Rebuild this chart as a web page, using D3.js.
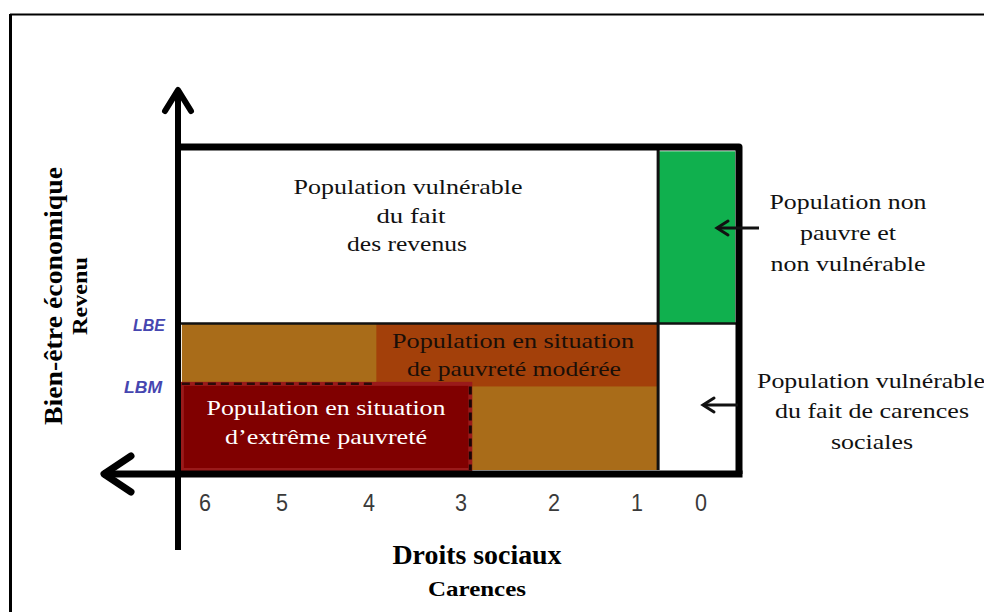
<!DOCTYPE html>
<html><head><meta charset="utf-8">
<script src="https://cdn.jsdelivr.net/npm/d3@7"></script>
<style>html,body{margin:0;padding:0;background:#fff;}svg{display:block;}</style>
</head><body>
<svg id="chart" width="984" height="612"></svg>
<script>
// ---- data ----
const carenceTicks = [6, 5, 4, 3, 2, 1, 0];
const tickLabels = ["6", "5", "4", "3", "2", "1", "0"];
const povertyLineNames = ["LBE", "LBM"];
const povertyLineValues = [1.7, 1.0];
const regionNames = ["vulnRevenus", "nonVulnerable", "vulnCarences", "pauvrete", "pauvreteModeree", "pauvreteExtreme"];
const regionX0 = [6.3, 0.67, 0.67, 6.3, 3.92, 6.3];
const regionX1 = [0.67, -0.45, -0.45, 0.67, 0.67, 2.9];
const regionY0 = [1.7, 1.7, 0, 0, 0.97, 0];
const regionY1 = [3.7, 3.7, 1.7, 1.7, 1.7, 1.0];
const insideLabels = [
  ["Population vulnérable", "du fait", "des revenus"],
  ["Population en situation", "de pauvreté modérée"],
  ["Population en situation", "d\u2019extrême pauvreté"]
];
const sideLabels = [
  ["Population non", "pauvre et", "non vulnérable"],
  ["Population vulnérable", "du fait de carences", "sociales"]
];
const yTitle = "Bien-être économique", ySubtitle = "Revenu";
const xTitle = "Droits sociaux", xSubtitle = "Carences";

// ---- styles ----
const fills = {vulnRevenus:"#ffffff", nonVulnerable:"#10b04e", vulnCarences:"#ffffff",
  pauvrete:"#a96c19", pauvreteModeree:"#a3400a", pauvreteExtreme:"#800000"};

const svg = d3.select("#chart");
const x = d3.scaleLinear()
  .domain([6.35, 6, 5, 4, 3, 2, 1, 0, -0.5])
  .range([178, 205, 282, 369, 461, 554, 637, 701, 739]);
const y = d3.scaleLinear().domain([0, 3.75]).range([470, 147]);

// outer frame
svg.append("line").attr("x1", 10).attr("x2", 984).attr("y1", 14.5).attr("y2", 14.5).attr("stroke", "#000").attr("stroke-width", 2);
svg.append("line").attr("x1", 10.5).attr("x2", 10.5).attr("y1", 14).attr("y2", 612).attr("stroke", "#000").attr("stroke-width", 3);

// regions
regionNames.forEach((n, i) => {
  svg.append("rect")
    .attr("x", x(regionX0[i])).attr("width", x(regionX1[i]) - x(regionX0[i]))
    .attr("y", y(regionY1[i])).attr("height", y(regionY0[i]) - y(regionY1[i]))
    .attr("fill", fills[n])
    .attr("stroke", n === "pauvreteExtreme" ? "#9a1a1a" : "none")
    .attr("stroke-width", n === "pauvreteExtreme" ? 4 : 0);
});

// LBE line (solid)
svg.append("line").attr("x1", x(6.35)).attr("x2", x(-0.5))
  .attr("y1", y(povertyLineValues[0])).attr("y2", y(povertyLineValues[0]))
  .attr("stroke", "#111").attr("stroke-width", 2.5);
// LBM dashed line
svg.append("line").attr("x1", x(6.3)).attr("x2", x(3.92))
  .attr("y1", y(povertyLineValues[1])).attr("y2", y(povertyLineValues[1]))
  .attr("stroke", "#2a0a0a").attr("stroke-width", 2.5).attr("stroke-dasharray", "8,5");
// extreme vertical dashed
svg.append("line").attr("x1", x(2.9)).attr("x2", x(2.9))
  .attr("y1", y(0.97)).attr("y2", y(0))
  .attr("stroke", "#1a0505").attr("stroke-width", 3).attr("stroke-dasharray", "8,5");
// divider
svg.append("line").attr("x1", x(0.67)).attr("x2", x(0.67))
  .attr("y1", y(3.75)).attr("y2", y(0))
  .attr("stroke", "#111").attr("stroke-width", 3);

// main box (top + right)
svg.append("path")
  .attr("d", `M${x(6.35)},${y(3.75)} L${x(-0.5)},${y(3.75)} L${x(-0.5)},${y(0)+4} `)
  .attr("fill", "none").attr("stroke", "#000").attr("stroke-width", 7).attr("stroke-linejoin", "round");
// x axis (with left arrow)
svg.append("line").attr("x1", 103).attr("x2", x(-0.5) + 3.5).attr("y1", y(0) + 4).attr("y2", y(0) + 4)
  .attr("stroke", "#000").attr("stroke-width", 7);
svg.append("path").attr("d", `M131,${y(0) - 14} L104,${y(0) + 4} L131,${y(0) + 22}`)
  .attr("fill", "none").attr("stroke", "#000").attr("stroke-width", 7).attr("stroke-linecap", "round").attr("stroke-linejoin", "round");
// y axis (with top arrow)
svg.append("line").attr("x1", x(6.35)).attr("x2", x(6.35)).attr("y1", 90).attr("y2", 550)
  .attr("stroke", "#000").attr("stroke-width", 6);
svg.append("path").attr("d", `M${x(6.35) - 13},111 L${x(6.35)},90 L${x(6.35) + 13},111`)
  .attr("fill", "none").attr("stroke", "#000").attr("stroke-width", 6).attr("stroke-linecap", "round").attr("stroke-linejoin", "round");

// tick labels
svg.selectAll("text.tick").data(carenceTicks).join("text")
  .attr("class", "tick")
  .attr("x", d => x(d)).attr("y", 511)
  .attr("text-anchor", "middle")
  .attr("font-family", "Liberation Sans, Arial, sans-serif").attr("font-size", 24)
  .attr("fill", "#3a3a3a")
  .attr("textLength", 12).attr("lengthAdjust", "spacingAndGlyphs")
  .text((d, i) => tickLabels[i]);

// poverty line labels
const lblX = [149, 143];
povertyLineNames.forEach((n, i) => {
  svg.append("text").attr("x", lblX[i]).attr("y", y(povertyLineValues[i]) + (i === 0 ? 7 : 9))
    .attr("text-anchor", "middle")
    .attr("font-family", "Liberation Sans, Arial, sans-serif").attr("font-size", 16)
    .attr("font-weight", "bold").attr("font-style", "italic")
    .attr("textLength", i === 0 ? 32 : 38).attr("lengthAdjust", "spacingAndGlyphs")
    .attr("fill", "#4646b0").text(n);
});

const serif = "Liberation Serif, Times New Roman, serif";
function block(lines, cx, baselines, lengths, color, size) {
  lines.forEach((t, i) => {
    svg.append("text").attr("x", cx[i]).attr("y", baselines[i])
      .attr("text-anchor", "middle").attr("font-family", serif).attr("font-size", size || 21)
      .attr("fill", color)
      .attr("textLength", lengths[i]).attr("lengthAdjust", "spacingAndGlyphs")
      .text(t);
  });
}
// inside labels
block(insideLabels[0], [408, 411, 407], [194, 223, 251], [229, 69, 120], "#111");
block(insideLabels[1], [513, 514], [348, 376], [242, 214], "#1a0f08");
block(insideLabels[2], [326, 326], [415, 444], [239, 202], "#ffffff");
// side labels
block(sideLabels[0], [848, 848, 848], [209, 240, 271], [157, 96, 155], "#111");
block(sideLabels[1], [871, 872, 872], [388, 418, 449], [228, 194, 82], "#111");

// side arrows
function sideArrow(x1, x2, yy) {
  svg.append("line").attr("x1", x1).attr("x2", x2).attr("y1", yy).attr("y2", yy)
    .attr("stroke", "#111").attr("stroke-width", 3);
  svg.append("path").attr("d", `M${x2 + 11},${yy - 7} L${x2},${yy} L${x2 + 11},${yy + 7}`)
    .attr("fill", "none").attr("stroke", "#111").attr("stroke-width", 3).attr("stroke-linecap", "round");
}
sideArrow(759, 717, 228);
sideArrow(738, 703, 405);

// axis titles
svg.append("text").attr("transform", "translate(62,296) rotate(-90)")
  .attr("text-anchor", "middle").attr("font-family", serif).attr("font-size", 25).attr("font-weight", "bold")
  .attr("textLength", 258).attr("lengthAdjust", "spacingAndGlyphs").text(yTitle);
svg.append("text").attr("transform", "translate(87,296) rotate(-90)")
  .attr("text-anchor", "middle").attr("font-family", serif).attr("font-size", 20).attr("font-weight", "bold")
  .attr("textLength", 78).attr("lengthAdjust", "spacingAndGlyphs").text(ySubtitle);
svg.append("text").attr("x", 477).attr("y", 564)
  .attr("text-anchor", "middle").attr("font-family", serif).attr("font-size", 27).attr("font-weight", "bold")
  .attr("textLength", 169).attr("lengthAdjust", "spacingAndGlyphs").text(xTitle);
svg.append("text").attr("x", 477).attr("y", 596)
  .attr("text-anchor", "middle").attr("font-family", serif).attr("font-size", 21).attr("font-weight", "bold")
  .attr("textLength", 98).attr("lengthAdjust", "spacingAndGlyphs").text(xSubtitle);
</script>
</body></html>
